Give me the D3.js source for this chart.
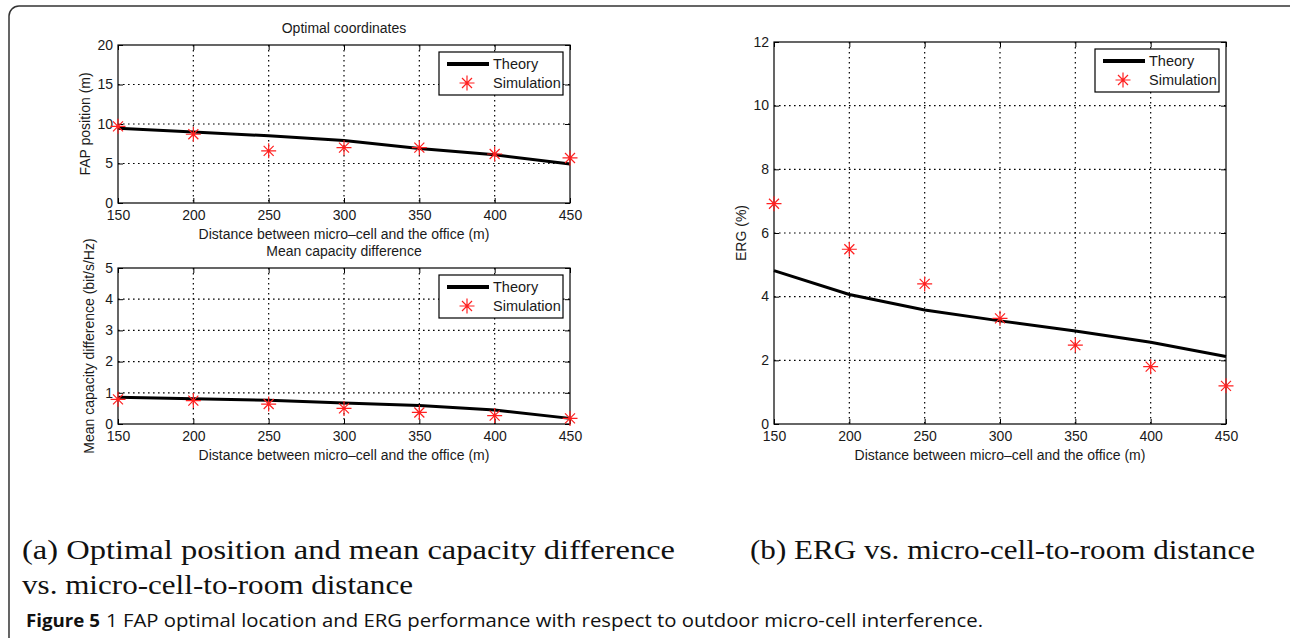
<!DOCTYPE html>
<html>
<head>
<meta charset="utf-8">
<script src="https://cdn.jsdelivr.net/npm/d3@7"></script>
<style>
  body { margin: 0; background: #fff; }
  svg { display: block; }
  .tick text { font-family: "Liberation Sans", Arial, sans-serif; font-size: 14px; fill: #1a1a1a; }
</style>
</head>
<body>
<div id="chart"></div>
<script>
// values
const distances = [150, 200, 250, 300, 350, 400, 450]
const fapTheory = [9.45, 9.0, 8.5, 7.9, 6.9, 6.1, 4.95]
const fapSim = [9.7, 8.7, 6.6, 7.0, 7.0, 6.2, 5.7]
const capTheory = [0.86, 0.81, 0.76, 0.67, 0.59, 0.45, 0.18]
const capSim = [0.79, 0.75, 0.64, 0.5, 0.37, 0.27, 0.18]
const ergTheory = [4.82, 4.07, 3.58, 3.24, 2.92, 2.57, 2.12]
const ergSim = [6.92, 5.49, 4.4, 3.32, 2.48, 1.8, 1.2]
const fapTicks = [0, 5, 10, 15, 20]
const capTicks = [0, 1, 2, 3, 4, 5]
const ergTicks = [0, 2, 4, 6, 8, 10, 12]
const xLabel = 'Distance between micro\u2013cell and the office (m)'

const W = 1290, H = 638
const sans = '"Liberation Sans", Arial, sans-serif'

const svg = d3.select('#chart').append('svg')
  .attr('width', W)
  .attr('height', H)

// rounded frame round the whole figure
svg.append('rect')
  .attr('x', 9).attr('y', 6)
  .attr('width', 1300).attr('height', 700)
  .attr('rx', 10)
  .attr('fill', 'none')
  .attr('stroke', '#333')
  .attr('stroke-width', 1.5)

// matlab '*' marker: long + arms, shorter x arms
const starPath = 'M-7.5,0L7.5,0M0,-7.5L0,7.5M-5,-5L5,5M-5,5L5,-5'
const red = '#ff2020'

function panel(opt) {
  const x = d3.scaleLinear().domain([150, 450]).range([opt.left, opt.right])
  const y = d3.scaleLinear().domain([0, opt.yTicks[opt.yTicks.length - 1]]).range([opt.bottom, opt.top])
  const g = svg.append('g')

  // dotted grid
  g.selectAll('.vgrid').data(distances.slice(1, -1)).enter().append('line')
    .attr('x1', d => x(d)).attr('x2', d => x(d))
    .attr('y1', opt.top).attr('y2', opt.bottom)
    .attr('stroke', '#000').attr('stroke-width', 1.2)
    .attr('stroke-dasharray', '1.6,3.4')
  g.selectAll('.hgrid').data(opt.yTicks.slice(1, -1)).enter().append('line')
    .attr('x1', opt.left).attr('x2', opt.right)
    .attr('y1', d => y(d)).attr('y2', d => y(d))
    .attr('stroke', '#000').attr('stroke-width', 1.2)
    .attr('stroke-dasharray', '1.6,3.4')

  // axes, ticks pointing inwards like matlab
  const xAxis = g.append('g')
    .attr('transform', 'translate(0,' + opt.bottom + ')')
    .call(d3.axisBottom(x).tickValues(distances).tickSize(-5).tickPadding(9).tickFormat(d3.format('d')))
  const yAxis = g.append('g')
    .attr('transform', 'translate(' + opt.left + ',0)')
    .call(d3.axisLeft(y).tickValues(opt.yTicks).tickSize(-5).tickPadding(5).tickFormat(d3.format('d')))
  g.append('g')
    .attr('transform', 'translate(0,' + opt.top + ')')
    .call(d3.axisTop(x).tickValues(distances).tickSize(-5).tickFormat(''))
  g.append('g')
    .attr('transform', 'translate(' + opt.right + ',0)')
    .call(d3.axisRight(y).tickValues(opt.yTicks).tickSize(-5).tickFormat(''))
  g.selectAll('.domain').remove()
  g.selectAll('.tick line').attr('stroke', '#000')
  xAxis.selectAll('.tick text').attr('dy', '0.55em')
  yAxis.selectAll('.tick text').attr('dy', '0.3em')

  g.append('rect')
    .attr('x', opt.left).attr('y', opt.top)
    .attr('width', opt.right - opt.left).attr('height', opt.bottom - opt.top)
    .attr('fill', 'none').attr('stroke', '#000').attr('stroke-width', 1.2)

  // theory line
  g.append('path')
    .datum(opt.theory)
    .attr('fill', 'none')
    .attr('stroke', '#000')
    .attr('stroke-width', 3)
    .attr('d', d3.line().x((d, i) => x(distances[i])).y(d => y(d)))

  // simulation markers
  g.selectAll('.star').data(opt.sim).enter().append('path')
    .attr('d', starPath)
    .attr('transform', (d, i) => 'translate(' + x(distances[i]) + ',' + y(d) + ')')
    .attr('stroke', red).attr('stroke-width', 1.2).attr('fill', 'none')

  // labels
  const cx = (opt.left + opt.right) / 2
  if (opt.title) {
    g.append('text').attr('x', cx).attr('y', opt.top - 12)
      .attr('text-anchor', 'middle').attr('font-family', sans).attr('font-size', 14).attr('fill', '#1a1a1a')
      .text(opt.title)
  }
  g.append('text').attr('x', cx).attr('y', opt.bottom + 36)
    .attr('text-anchor', 'middle').attr('font-family', sans).attr('font-size', 14).attr('fill', '#1a1a1a')
    .text(xLabel)
  g.append('text')
    .attr('transform', 'translate(' + opt.ylabelX + ',' + (opt.top + opt.bottom) / 2 + ') rotate(-90)')
    .attr('text-anchor', 'middle').attr('font-family', sans).attr('font-size', 14).attr('fill', '#1a1a1a')
    .text(opt.ylabel)

  // legend
  const lx = opt.right - 131, ly = opt.top + 7
  const lg = g.append('g').attr('transform', 'translate(' + lx + ',' + ly + ')')
  lg.append('rect').attr('width', 124).attr('height', 43)
    .attr('fill', '#fff').attr('stroke', '#000').attr('stroke-width', 1.2)
  lg.append('line').attr('x1', 8).attr('x2', 50).attr('y1', 12).attr('y2', 12)
    .attr('stroke', '#000').attr('stroke-width', 4)
  lg.append('path').attr('d', starPath).attr('transform', 'translate(28,31)')
    .attr('stroke', red).attr('stroke-width', 1.2).attr('fill', 'none')
  lg.append('text').attr('x', 54).attr('y', 17).attr('font-family', sans).attr('font-size', 14.5).attr('fill', '#1a1a1a').text('Theory')
  lg.append('text').attr('x', 54).attr('y', 36).attr('font-family', sans).attr('font-size', 14.5).attr('fill', '#1a1a1a').text('Simulation')
}

panel({ left: 118, right: 570, top: 45, bottom: 203, yTicks: fapTicks, theory: fapTheory, sim: fapSim,
  title: 'Optimal coordinates', ylabel: 'FAP position (m)', ylabelX: 90 })
panel({ left: 118, right: 570, top: 268, bottom: 424, yTicks: capTicks, theory: capTheory, sim: capSim,
  title: 'Mean capacity difference', ylabel: 'Mean capacity difference (bit/s/Hz)', ylabelX: 94 })
panel({ left: 774, right: 1226, top: 42, bottom: 424, yTicks: ergTicks, theory: ergTheory, sim: ergSim,
  title: null, ylabel: 'ERG (%)', ylabelX: 746 })

// sub-captions in latex style
const serif = '"Liberation Serif", "Times New Roman", serif'
const caps = [
  { t: '(a) Optimal position and mean capacity difference', x: 22, y: 559, w: 653 },
  { t: 'vs. micro-cell-to-room distance', x: 22, y: 594, w: 391 },
  { t: '(b) ERG vs. micro-cell-to-room distance', x: 750, y: 559, w: 505 }
]
svg.selectAll('.cap').data(caps).enter().append('text')
  .attr('x', d => d.x).attr('y', d => d.y)
  .attr('font-family', serif).attr('font-size', 27).attr('fill', '#111')
  .attr('textLength', d => d.w).attr('lengthAdjust', 'spacingAndGlyphs')
  .text(d => d.t)

// figure caption
svg.append('text').attr('x', 26).attr('y', 627)
  .attr('font-family', '"Open Sans", "Noto Sans", sans-serif').attr('font-size', 18).attr('font-weight', 'bold').attr('fill', '#111')
  .attr('textLength', 74).attr('lengthAdjust', 'spacingAndGlyphs')
  .text('Figure 5')
svg.append('text').attr('x', 106).attr('y', 627)
  .attr('font-family', '"Open Sans", "Noto Sans", sans-serif').attr('font-size', 18).attr('fill', '#111')
  .attr('textLength', 877).attr('lengthAdjust', 'spacingAndGlyphs')
  .text('1 FAP optimal location and ERG performance with respect to outdoor micro-cell interference.')
</script>
</body>
</html>
